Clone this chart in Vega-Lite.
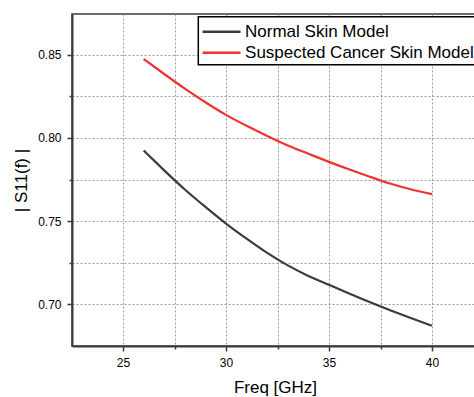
{
  "$schema": "https://vega.github.io/schema/vega-lite/v6.json",
  "autosize": {"type": "none"},
  "padding": {"left": 72, "top": 14, "right": 0, "bottom": 51},
  "width": 406,
  "height": 332,
  "background": "white",
  "config": {
    "font": "Liberation Sans",
    "view": {"stroke": "#3c3c3c", "strokeWidth": 1.5},
    "axis": {
      "labelFont": "Liberation Sans",
      "titleFont": "Liberation Sans",
      "labelFontSize": 12,
      "titleFontSize": 17,
      "titleFontWeight": "normal",
      "labelColor": "#000000",
      "titleColor": "#000000",
      "domainColor": "#3c3c3c",
      "domainWidth": 2,
      "tickColor": "#3c3c3c",
      "tickWidth": 1.5,
      "gridColor": "#9a9a9a",
      "gridDash": [2, 2],
      "gridWidth": 1
    }
  },
  "data": {
    "values": [
      {"freq": 26, "s11": 0.7925, "model": "Normal Skin Model"},
      {"freq": 27, "s11": 0.7805, "model": "Normal Skin Model"},
      {"freq": 28, "s11": 0.7690, "model": "Normal Skin Model"},
      {"freq": 29, "s11": 0.7585, "model": "Normal Skin Model"},
      {"freq": 30, "s11": 0.7485, "model": "Normal Skin Model"},
      {"freq": 31, "s11": 0.7394, "model": "Normal Skin Model"},
      {"freq": 32, "s11": 0.7308, "model": "Normal Skin Model"},
      {"freq": 33, "s11": 0.7233, "model": "Normal Skin Model"},
      {"freq": 34, "s11": 0.7170, "model": "Normal Skin Model"},
      {"freq": 35, "s11": 0.7116, "model": "Normal Skin Model"},
      {"freq": 36, "s11": 0.7062, "model": "Normal Skin Model"},
      {"freq": 37, "s11": 0.7011, "model": "Normal Skin Model"},
      {"freq": 38, "s11": 0.6962, "model": "Normal Skin Model"},
      {"freq": 39, "s11": 0.6915, "model": "Normal Skin Model"},
      {"freq": 40, "s11": 0.6870, "model": "Normal Skin Model"},
      {"freq": 26, "s11": 0.8475, "model": "Suspected Cancer Skin Model"},
      {"freq": 27, "s11": 0.8385, "model": "Suspected Cancer Skin Model"},
      {"freq": 28, "s11": 0.8297, "model": "Suspected Cancer Skin Model"},
      {"freq": 29, "s11": 0.8215, "model": "Suspected Cancer Skin Model"},
      {"freq": 30, "s11": 0.8139, "model": "Suspected Cancer Skin Model"},
      {"freq": 31, "s11": 0.8073, "model": "Suspected Cancer Skin Model"},
      {"freq": 32, "s11": 0.8012, "model": "Suspected Cancer Skin Model"},
      {"freq": 33, "s11": 0.7955, "model": "Suspected Cancer Skin Model"},
      {"freq": 34, "s11": 0.7905, "model": "Suspected Cancer Skin Model"},
      {"freq": 35, "s11": 0.7856, "model": "Suspected Cancer Skin Model"},
      {"freq": 36, "s11": 0.7810, "model": "Suspected Cancer Skin Model"},
      {"freq": 37, "s11": 0.7766, "model": "Suspected Cancer Skin Model"},
      {"freq": 38, "s11": 0.7724, "model": "Suspected Cancer Skin Model"},
      {"freq": 39, "s11": 0.7690, "model": "Suspected Cancer Skin Model"},
      {"freq": 40, "s11": 0.7662, "model": "Suspected Cancer Skin Model"}
    ]
  },
  "mark": {"type": "line", "strokeWidth": 2.2, "interpolate": "natural"},
  "encoding": {
    "x": {
      "field": "freq",
      "type": "quantitative",
      "title": "Freq [GHz]",
      "scale": {"domain": [22.524, 42.233], "nice": false, "zero": false},
      "axis": {
        "values": [25, 27.5, 30, 32.5, 35, 37.5, 40, 42.5],
        "labelExpr": "datum.value % 5 == 0 ? datum.label : ''",
        "tickSize": {"condition": {"test": "datum.value % 5 != 0", "value": 3}, "value": 5},
        "labelPadding": 6,
        "titlePadding": 11,
        "labelFlush": false
      }
    },
    "y": {
      "field": "s11",
      "type": "quantitative",
      "title": "| S11(f) |",
      "scale": {"domain": [0.6748, 0.8746], "nice": false, "zero": false},
      "axis": {
        "values": [0.7, 0.725, 0.75, 0.775, 0.8, 0.825, 0.85],
        "labelExpr": "(round(datum.value * 1000) % 50 == 0) ? format(datum.value, '.2f') : ''",
        "tickSize": {"condition": {"test": "round(datum.value * 1000) % 50 != 0", "value": 3}, "value": 5},
        "labelPadding": 6,
        "titlePadding": 7,
        "labelFlush": false
      }
    },
    "color": {
      "field": "model",
      "type": "nominal",
      "title": null,
      "scale": {
        "domain": ["Normal Skin Model", "Suspected Cancer Skin Model"],
        "range": ["#3c3c3c", "#f03232"]
      },
      "legend": {
        "orient": "none",
        "legendX": 126.3,
        "legendY": 2.7,
        "symbolType": "M0,0H4",
        "symbolSize": 361,
        "symbolStrokeWidth": 2.5,
        "symbolOffset": -10.75,
        "labelFont": "Liberation Sans",
        "labelFontSize": 17,
        "labelColor": "#000000",
        "labelOffset": 31.5,
        "labelLimit": 400,
        "strokeColor": "#000000",
        "fillColor": "white",
        "padding": 4,
        "rowPadding": 2,
        "encode": {"legend": {"update": {"strokeWidth": {"value": 1.5}}}}
      }
    }
  }
}
